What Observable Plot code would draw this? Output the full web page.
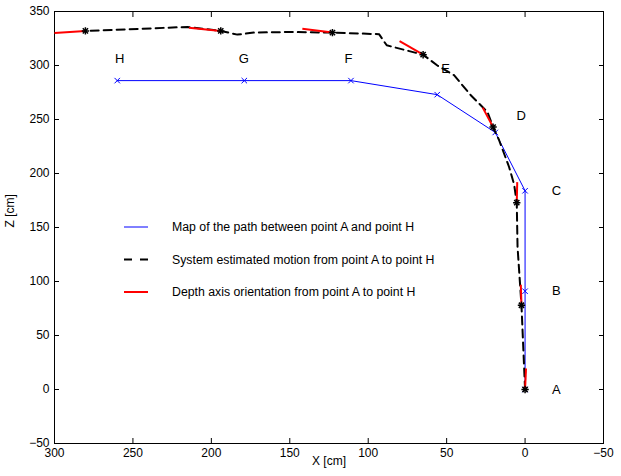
<!DOCTYPE html>
<html><head><meta charset="utf-8">
<script src="https://cdn.jsdelivr.net/npm/d3@7"></script>
<script src="https://cdn.jsdelivr.net/npm/@observablehq/plot@0.6"></script>
<style>
body{margin:0;background:#fff;}
#wrap{position:relative;width:621px;height:476px;font-family:"Liberation Sans",Arial,sans-serif;}
#legend{position:absolute;left:0;top:0;pointer-events:none;}
</style></head><body><div id="wrap"></div>
<script>
// Point labels and their label positions
const pointLabels = ["A","B","C","D","E","F","G","H"];
const labelX = [-20, -20, -20, 2.5, 50.6, 112.6, 179.3, 258.5];
const labelZ = [0, 91, 184, 253, 297, 306, 306, 306];

// Map of the path (blue)
const mapX = [0, 0, 0, 19, 56, 111, 179, 260];
const mapZ = [0, 91, 184, 238, 273, 286, 286, 286];

// System estimated motion (black dashed)
const estX = [0, 2.3, 4.8, 5.3, 7, 10.2, 16.6, 20.4, 24, 34.6, 45.3, 55.9, 65, 88.2, 93.1, 122.8, 150, 172.8, 183.4, 194, 215.3, 280.3];
const estZ = [0, 78, 132, 173, 190, 206, 231, 243, 257, 272.5, 291, 300, 310, 318.7, 329, 330.5, 331, 330.5, 328.6, 332, 335.7, 332];

// Estimated positions at points A..H (black markers)
const markX = [0, 2.3, 5.3, 20.4, 65, 122.8, 194, 280.3];
const markZ = [0, 78, 173, 243, 310, 330.5, 332, 332];

// Depth axis orientation end points (red)
const depthX = [-0.6, 2.7, 5, 27, 80, 142, 214.3, 300];
const depthZ = [19.4, 97, 192, 261, 322.5, 334, 335, 330];

const xTicks = [300, 250, 200, 150, 100, 50, 0, -50];
const yTicks = [-50, 0, 50, 100, 150, 200, 250, 300, 350];

const legendItems = [
  "Map of the path between point A and point H",
  "System estimated motion from point A to point H",
  "Depth axis orientation from point A to point H"
];

const mapPts = mapX.map((x, i) => ({x, z: mapZ[i]}));
const estPts = estX.map((x, i) => ({x, z: estZ[i]}));
const markPts = markX.map((x, i) => ({x, z: markZ[i]}));
const redSegs = markX.map((x, i) => ({x1: x, z1: markZ[i], x2: depthX[i], z2: depthZ[i]}));
const labels = pointLabels.map((t, i) => ({t, x: labelX[i], z: labelZ[i]}));

const font = "Liberation Sans, Arial, sans-serif";

const chart = Plot.plot({
  width: 621, height: 476,
  marginLeft: 54, marginRight: 18, marginTop: 11, marginBottom: 33,
  style: {fontFamily: font, fontSize: "12px", background: "white", color: "black"},
  x: {domain: [300, -50]},
  y: {domain: [-50, 350]},
  marks: [
    Plot.axisX({anchor: "bottom", ticks: xTicks, tickSize: -5, tickPadding: 10, label: null, fontSize: 12}),
    Plot.axisX({anchor: "top", ticks: xTicks, tickSize: -5, tickFormat: () => "", label: null}),
    Plot.axisY({anchor: "left", ticks: yTicks, tickSize: -5, tickPadding: 10, label: null, fontSize: 12}),
    Plot.axisY({anchor: "right", ticks: yTicks, tickSize: -5, tickFormat: () => "", label: null}),
    Plot.frame({stroke: "black", strokeWidth: 1}),
    Plot.line(mapPts, {x: "x", y: "z", stroke: "#0000ff", strokeWidth: 1}),
    Plot.dot(mapPts, {x: "x", y: "z", symbol: "times", r: 2.6, stroke: "#0000ff", strokeWidth: 1}),
    Plot.line(estPts, {x: "x", y: "z", stroke: "black", strokeWidth: 2, strokeDasharray: "8,5"}),
    Plot.link(redSegs, {x1: "x1", y1: "z1", x2: "x2", y2: "z2", stroke: "#ff0000", strokeWidth: 2, clip: true}),
    Plot.dot(markPts, {x: "x", y: "z", symbol: "times", r: 2.5, stroke: "black", strokeWidth: 1.5}),
    Plot.dot(markPts, {x: "x", y: "z", symbol: "plus", r: 2.5, stroke: "black", strokeWidth: 1.5}),
    Plot.text(labels, {x: "x", y: "z", text: "t", fontSize: 13, fill: "black"}),
    Plot.text(["X [cm]"], {frameAnchor: "bottom", dy: 21, fontSize: 12, fill: "black"}),
    Plot.text(["Z [cm]"], {frameAnchor: "left", dx: -44, rotate: -90, fontSize: 12, fill: "black"})
  ]
});

const wrap = document.getElementById("wrap");
wrap.appendChild(chart);

// Legend overlay (inside plot area, no box)
const ns = "http://www.w3.org/2000/svg";
const leg = document.createElementNS(ns, "svg");
leg.setAttribute("id", "legend");
leg.setAttribute("width", 621);
leg.setAttribute("height", 476);
const legStyles = [
  {stroke: "#0000ff", width: 1, dash: null},
  {stroke: "black", width: 2, dash: "8,8"},
  {stroke: "#ff0000", width: 2, dash: null}
];
const legRows = [227, 259.5, 292];
legendItems.forEach((t, i) => {
  const l = document.createElementNS(ns, "line");
  l.setAttribute("x1", 124); l.setAttribute("x2", 148);
  l.setAttribute("y1", legRows[i]); l.setAttribute("y2", legRows[i]);
  l.setAttribute("stroke", legStyles[i].stroke);
  l.setAttribute("stroke-width", legStyles[i].width);
  if (legStyles[i].dash) l.setAttribute("stroke-dasharray", legStyles[i].dash);
  leg.appendChild(l);
  const tx = document.createElementNS(ns, "text");
  tx.setAttribute("x", 172); tx.setAttribute("y", legRows[i]);
  tx.setAttribute("dy", "0.35em");
  tx.setAttribute("font-size", "12.3px");
  tx.setAttribute("font-family", font);
  tx.textContent = t;
  leg.appendChild(tx);
});
wrap.appendChild(leg);
</script></body></html>
